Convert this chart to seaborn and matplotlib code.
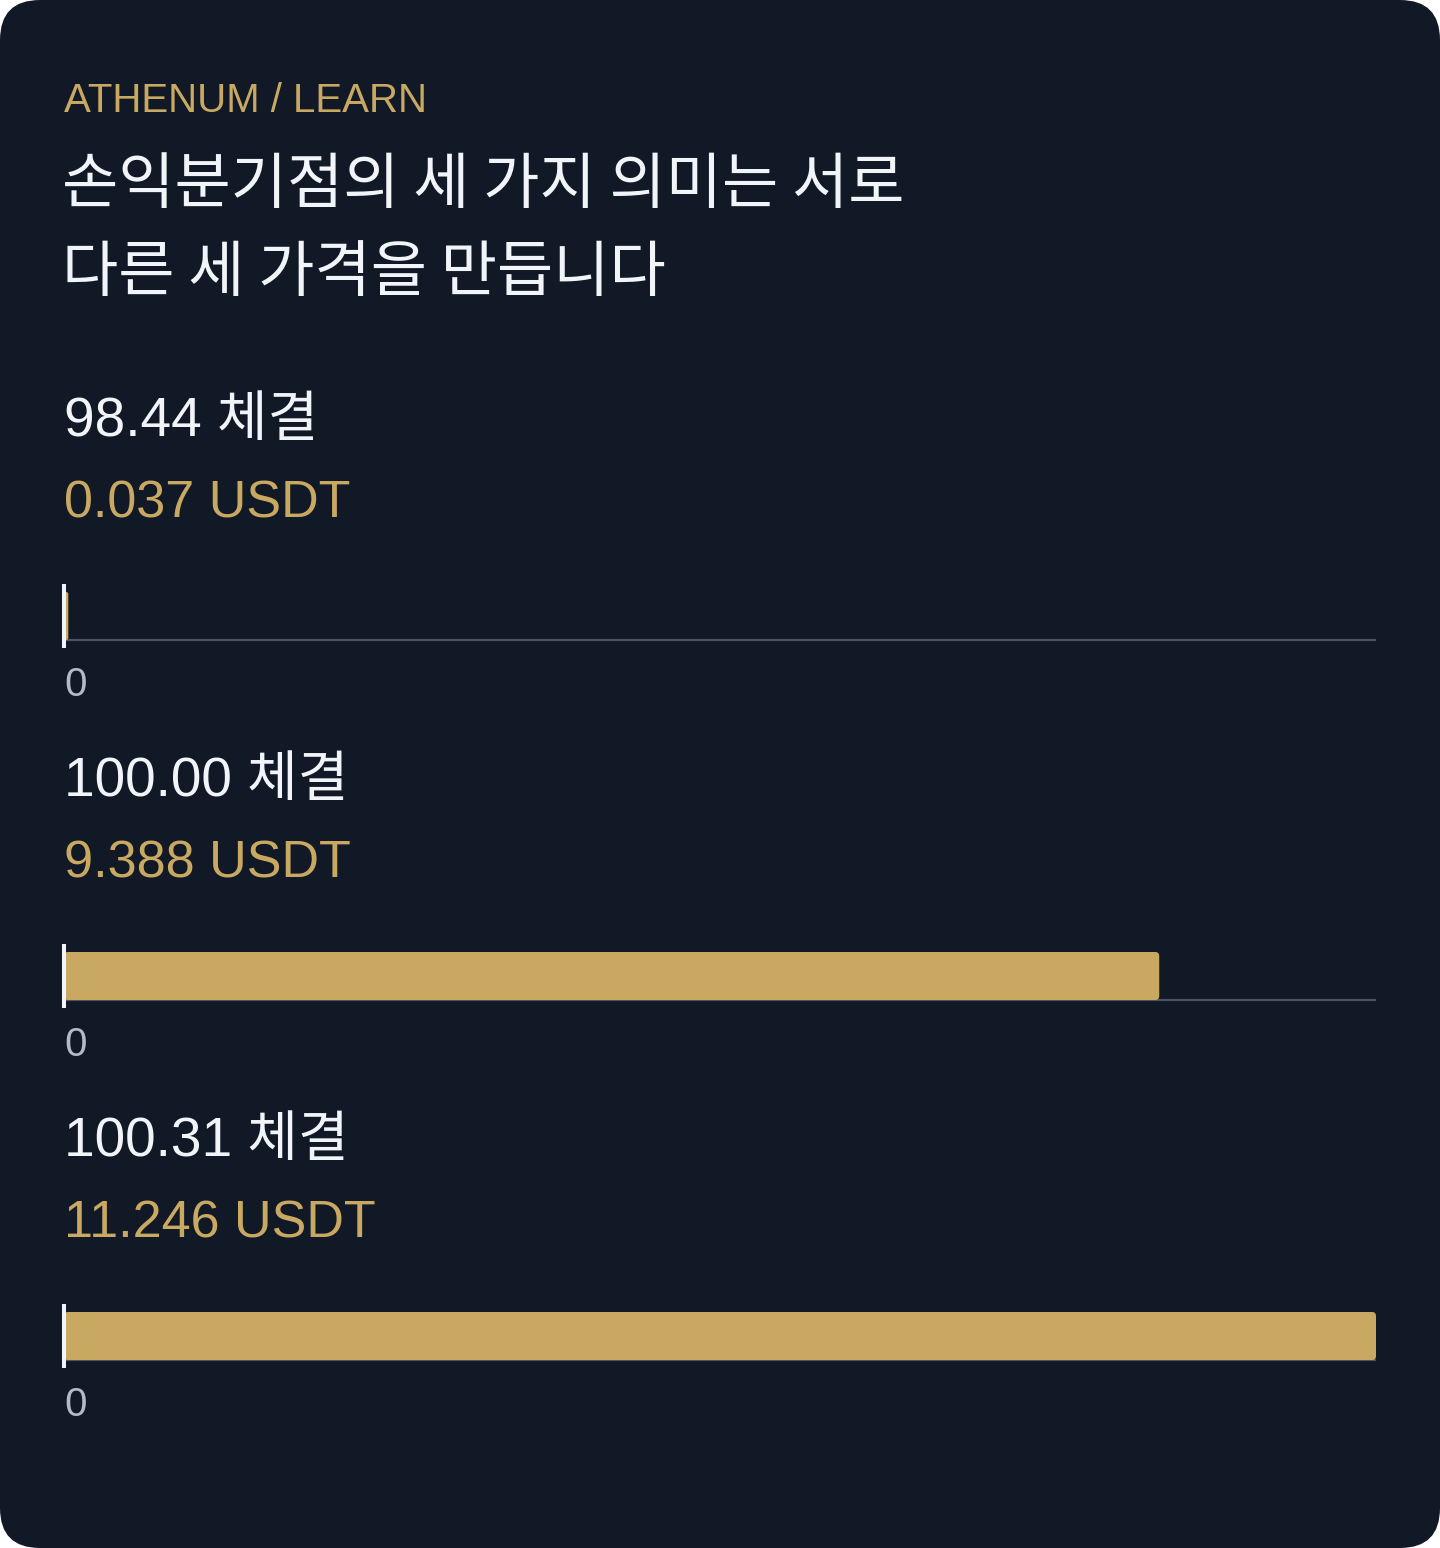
import matplotlib
matplotlib.use("Agg")
import matplotlib.pyplot as plt
import seaborn as sns
import pandas as pd
from matplotlib.patches import FancyBboxPatch
from matplotlib.transforms import IdentityTransform

# 데이터
prices = ["98.44", "100.00", "100.31"]
pnl_usdt = [0.037, 9.388, 11.246]
pnl_labels = ["0.037 USDT", "9.388 USDT", "11.246 USDT"]
header = "ATHENUM / LEARN"
title_lines = ["손익분기점의 세 가지 의미는 서로", "다른 세 가격을 만듭니다"]

BG = "#121926"
GOLD = "#c9a862"
WHITE = "#f1f4f8"
GRID = "#4b5563"
TICK = "#b3bbc6"

W, H = 1440, 1548
sns.set_theme(style="white")
plt.rcParams['font.family'] = ['Liberation Sans', 'Noto Sans CJK KR', 'DejaVu Sans']

fig = plt.figure(figsize=(W / 100, H / 100), dpi=100, facecolor="white")
card = FancyBboxPatch((0, 0), W, H, boxstyle="round,pad=0,rounding_size=40",
                      transform=IdentityTransform(), facecolor=BG, edgecolor="none", zorder=-10)
fig.add_artist(card)


def fy(y):
    return 1 - y / H


fig.text(64 / W, fy(112), header, color=GOLD, fontsize=29, va="baseline")
fig.text(62 / W, fy(203), title_lines[0], color=WHITE, fontsize=44, va="baseline",
         family=['Noto Sans CJK KR'])
fig.text(62 / W, fy(291), title_lines[1], color=WHITE, fontsize=44, va="baseline",
         family=['Noto Sans CJK KR'])

xmax = max(pnl_usdt)
for i, (price, val, lab) in enumerate(zip(prices, pnl_usdt, pnl_labels)):
    off = 360 * i
    fig.text(64 / W, fy(436 + off), f"{price} 체결", color=WHITE, fontsize=39.6, va="baseline")
    fig.text(64 / W, fy(517 + off), lab, color=GOLD, fontsize=37.5, va="baseline")

    top, bot = 584 + off, 648 + off
    ax = fig.add_axes([64 / W, fy(bot), (1376 - 64) / W, (bot - top) / H])
    ax.set_facecolor("none")
    df = pd.DataFrame({"cat": [price], "val": [val]})
    sns.barplot(data=df, x="val", y="cat", orient="h", color=GOLD, width=0.75,
                saturation=1, ax=ax)
    ax.set_xlim(0, xmax)
    ax.set_ylim(0.5, -0.5)
    # rounded bar ends
    xpp = xmax / (1376 - 64)
    ypp = 1.0 / (bot - top)
    for p in list(ax.patches):
        x0, y0, w, h = p.get_x(), p.get_y(), p.get_width(), p.get_height()
        p.remove()
        r = min(4 * xpp, w / 2)
        ax.add_patch(FancyBboxPatch((x0, y0), w, h,
                                    boxstyle=f"round,pad=0,rounding_size={r}",
                                    mutation_aspect=ypp / xpp,
                                    facecolor=GOLD, edgecolor="none", zorder=2))
    ax.axhline(0.375, color=GRID, lw=1.5, zorder=1)
    ax.axvline(0, color=WHITE, lw=2.9, zorder=3, clip_on=False, solid_capstyle="butt")
    for s in ax.spines.values():
        s.set_visible(False)
    ax.set_xticks([0])
    ax.set_xticklabels(["0"])
    ax.tick_params(axis="x", length=0, pad=13, labelsize=29, labelcolor=TICK)
    ax.set_yticks([])
    ax.set_xlabel("")
    ax.set_ylabel("")
    for t in ax.get_xticklabels():
        t.set_horizontalalignment("left")

fig.savefig("out.png", dpi=100, facecolor="white")
